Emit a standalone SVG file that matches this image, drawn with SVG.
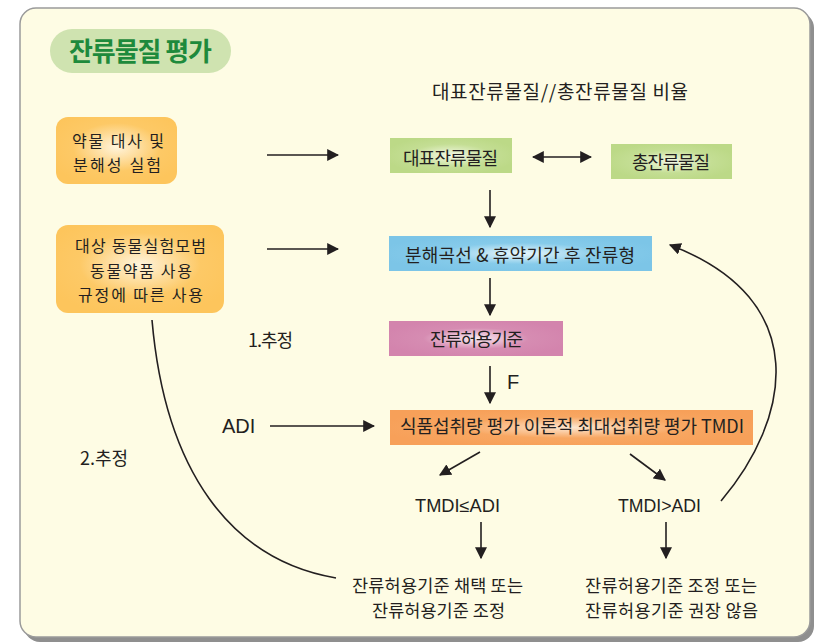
<svg xmlns="http://www.w3.org/2000/svg" width="820" height="643" viewBox="0 0 820 643">
<defs>
<style>
text{font-family:"Noto Sans CJK KR","Noto Sans",sans-serif;fill:#231f20;}
.t{font-size:18px;text-anchor:middle;}
.s{font-size:16px;}
.m{font-size:17.5px;}
.e{font-family:"Liberation Sans",sans-serif;}
.ln{stroke:#231f20;stroke-width:1.6;fill:none;}
</style>
<radialGradient id="gOr" cx="0.5" cy="0.45" r="0.6"><stop offset="0" stop-color="#fff4dc"/><stop offset="0.6" stop-color="#fdc966"/><stop offset="1" stop-color="#fdc55c"/></radialGradient>
<radialGradient id="gGr" cx="0.5" cy="0.5" r="0.55"><stop offset="0" stop-color="#f4f9e6"/><stop offset="0.6" stop-color="#c4de94"/><stop offset="1" stop-color="#bcd987"/></radialGradient>
<radialGradient id="gBl" cx="0.5" cy="0.5" r="0.55"><stop offset="0" stop-color="#eaf7fc"/><stop offset="0.55" stop-color="#86cbea"/><stop offset="1" stop-color="#7cc5e7"/></radialGradient>
<radialGradient id="gPk" cx="0.5" cy="0.5" r="0.55"><stop offset="0" stop-color="#fbeaf2"/><stop offset="0.55" stop-color="#d68cb2"/><stop offset="1" stop-color="#d384ad"/></radialGradient>
<radialGradient id="gOg" cx="0.5" cy="0.5" r="0.55"><stop offset="0" stop-color="#fde6d0"/><stop offset="0.55" stop-color="#f8a762"/><stop offset="1" stop-color="#f7a059"/></radialGradient>
<marker id="ahb" viewBox="0 0 10 10" refX="9" refY="5" markerWidth="12" markerHeight="12" markerUnits="userSpaceOnUse" orient="auto-start-reverse"><path d="M0,0 L10,5 L0,10 z" fill="#231f20"/></marker>
</defs>
<rect x="24" y="12" width="790" height="630" rx="16" fill="#8f8f8f"/>
<rect x="20" y="8" width="790" height="629" rx="16" fill="#fefce4" stroke="#9a9a9a" stroke-width="1.5"/>

<g id="title">
<rect x="50" y="29" width="181" height="44" rx="22" fill="#cfe3b0"/>
<text x="140.5" y="61" textLength="143" lengthAdjust="spacing" style="font-size:26px;font-weight:bold;fill:#1e8a3c;text-anchor:middle">잔류물질 평가</text>
</g>
<g id="header"><text class="t" x="560" y="99" style="font-size:19px" textLength="256" lengthAdjust="spacing">대표잔류물질//총잔류물질 비율</text></g>

<g id="n1"><rect x="56" y="117" width="121" height="67" rx="12" fill="url(#gOr)"/>
<text class="t s" x="118" y="147" textLength="92" lengthAdjust="spacing">약물 대사 및</text><text class="t s" x="117" y="171" textLength="88" lengthAdjust="spacing">분해성 실험</text></g>
<g id="n2"><rect x="56" y="225" width="168" height="88" rx="12" fill="url(#gOr)"/>
<text class="t s" x="140.5" y="252" textLength="131" lengthAdjust="spacing">대상 동물실험모범</text><text class="t s" x="141" y="277" textLength="102" lengthAdjust="spacing">동물약품 사용</text><text class="t s" x="140.5" y="301" textLength="125" lengthAdjust="spacing">규정에 따른 사용</text></g>

<g id="n3"><rect x="390" y="138" width="122" height="35" fill="url(#gGr)"/><text class="t" x="450.5" y="165" textLength="95" lengthAdjust="spacing">대표잔류물질</text></g>
<g id="n4"><rect x="611" y="144" width="121" height="35" fill="url(#gGr)"/><text class="t" x="671" y="169" textLength="78" lengthAdjust="spacing">총잔류물질</text></g>
<g id="n5"><rect x="389" y="236" width="263" height="35" fill="url(#gBl)"/><text class="t" x="520" y="262" textLength="230" lengthAdjust="spacing">분해곡선 &amp; 휴약기간 후 잔류형</text></g>
<g id="n6"><rect x="389" y="321" width="174" height="35" fill="url(#gPk)"/><text class="t" x="476.5" y="346" textLength="93" lengthAdjust="spacing">잔류허용기준</text></g>
<g id="n7"><rect x="390" y="410" width="363" height="35" fill="url(#gOg)"/><text class="t" x="572" y="433" textLength="344" lengthAdjust="spacing">식품섭취량 평가 이론적 최대섭취량 평가 TMDI</text></g>

<g id="labels">
<text class="t" x="270.5" y="347" textLength="45" lengthAdjust="spacing">1.추정</text>
<text class="t" x="104" y="465" textLength="48" lengthAdjust="spacing">2.추정</text>
<text class="e" x="222" y="433" style="font-size:20px">ADI</text>
<text class="e" x="507" y="389" style="font-size:20px">F</text>
<text class="t e" x="457.5" y="512" textLength="85" lengthAdjust="spacingAndGlyphs">TMDI≤ADI</text>
<text class="t e" x="659.5" y="512" textLength="83" lengthAdjust="spacingAndGlyphs">TMDI&gt;ADI</text>
<text class="t m" x="437.5" y="592" textLength="171" lengthAdjust="spacing">잔류허용기준 채택 또는</text>
<text class="t m" x="438.5" y="617" textLength="133" lengthAdjust="spacing">잔류허용기준 조정</text>
<text class="t m" x="671" y="592" textLength="172" lengthAdjust="spacing">잔류허용기준 조정 또는</text>
<text class="t m" x="671.5" y="617" textLength="173" lengthAdjust="spacing">잔류허용기준 권장 않음</text>
</g>

<g id="connectors">
<line class="ln" x1="267" y1="155" x2="338" y2="155" marker-end="url(#ahb)"/>
<line class="ln" x1="267" y1="249" x2="338" y2="249" marker-end="url(#ahb)"/>
<line class="ln" x1="533" y1="157" x2="591" y2="157" marker-start="url(#ahb)" marker-end="url(#ahb)"/>
<line class="ln" x1="490" y1="190" x2="490" y2="227" marker-end="url(#ahb)"/>
<line class="ln" x1="490" y1="278" x2="490" y2="315" marker-end="url(#ahb)"/>
<line class="ln" x1="490" y1="366" x2="490" y2="403" marker-end="url(#ahb)"/>
<line class="ln" x1="270" y1="426" x2="374" y2="426" marker-end="url(#ahb)"/>
<line class="ln" x1="480" y1="452" x2="440" y2="475" marker-end="url(#ahb)"/>
<line class="ln" x1="630" y1="454" x2="665" y2="480" marker-end="url(#ahb)"/>
<line class="ln" x1="481" y1="522" x2="481" y2="558" marker-end="url(#ahb)"/>
<line class="ln" x1="666" y1="522" x2="666" y2="558" marker-end="url(#ahb)"/>
<path class="ln" d="M152,320 C165,470 230,560 336,578"/>
<path class="ln" d="M721,501 C790,420 815,300 670,245" marker-end="url(#ahb)"/>
</g>
</svg>
